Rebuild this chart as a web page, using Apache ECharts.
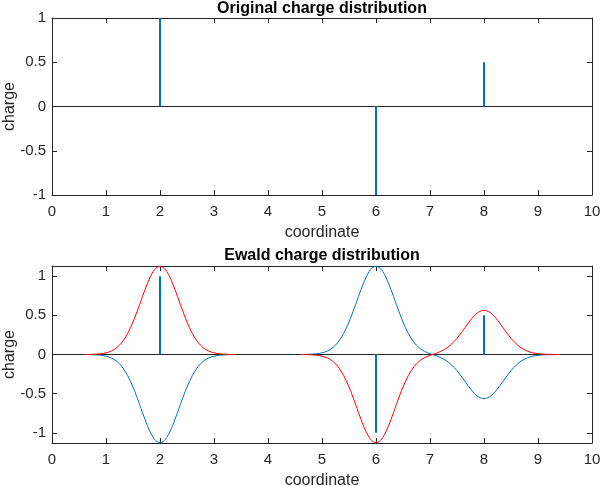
<!DOCTYPE html>
<html>
<head>
<meta charset="utf-8">
<script src="https://cdn.jsdelivr.net/npm/echarts@6/dist/echarts.min.js"></script>
<style>html,body{margin:0;padding:0;background:#fff}#c{width:600px;height:486px}</style>
</head>
<body>
<div id="c"></div>
<script>
// Point charges: positions and values
var chargePos = [2, 6, 8];
var chargeVal = [1, -1, 0.5];

// Ewald screening Gaussian curves sampled along the coordinate
var coord = [0,0.1,0.2,0.3,0.4,0.5,0.6,0.7,0.8,0.9,1,1.1,1.2,1.3,1.4,1.5,1.6,1.7,1.8,1.9,2,2.1,2.2,2.3,2.4,2.5,2.6,2.7,2.8,2.9,3,3.1,3.2,3.3,3.4,3.5,3.6,3.7,3.8,3.9,4,4.1,4.2,4.3,4.4,4.5,4.6,4.7,4.8,4.9,5,5.1,5.2,5.3,5.4,5.5,5.6,5.7,5.8,5.9,6,6.1,6.2,6.3,6.4,6.5,6.6,6.7,6.8,6.9,7,7.1,7.2,7.3,7.4,7.5,7.6,7.7,7.8,7.9,8,8.1,8.2,8.3,8.4,8.5,8.6,8.7,8.8,8.9,9,9.1,9.2,9.3,9.4,9.5,9.6,9.7,9.8,9.9,10];
var redCurve = [null,null,null,null,null,null,
  0,0.001,0.004,0.009,0.021,0.044,0.087,0.159,0.267,0.415,0.595,0.787,0.961,1.084,1.128,1.084,0.961,0.787,0.595,0.415,0.267,0.159,0.087,0.044,0.021,0.009,0.004,0.001,0,
  null,null,null,null,null,null,null,null,null,null,null,
  0,-0.001,-0.004,-0.009,-0.021,-0.044,-0.087,-0.159,-0.267,-0.415,-0.595,-0.787,-0.961,-1.084,-1.128,-1.084,-0.961,-0.787,-0.595,-0.415,-0.267,-0.158,-0.085,-0.040,-0.011,0.013,0.040,0.078,0.134,0.207,0.297,0.393,0.481,0.542,0.564,0.542,0.481,0.393,0.297,0.207,0.134,0.079,0.044,0.022,0.010,0.004,0.002,0.001,0,
  null,null,null,null,null,null];
var blueCurve = [null,null,null,null,null,null,
  0,-0.001,-0.004,-0.009,-0.021,-0.044,-0.087,-0.159,-0.267,-0.415,-0.595,-0.787,-0.961,-1.084,-1.128,-1.084,-0.961,-0.787,-0.595,-0.415,-0.267,-0.159,-0.087,-0.044,-0.021,-0.009,-0.004,-0.001,0,
  null,null,null,null,null,null,null,null,null,null,null,
  0,0.001,0.004,0.009,0.021,0.044,0.087,0.159,0.267,0.415,0.595,0.787,0.961,1.084,1.128,1.084,0.961,0.787,0.595,0.415,0.267,0.158,0.085,0.040,0.011,-0.013,-0.040,-0.078,-0.134,-0.207,-0.297,-0.393,-0.481,-0.542,-0.564,-0.542,-0.481,-0.393,-0.297,-0.207,-0.134,-0.079,-0.044,-0.022,-0.010,-0.004,-0.002,-0.001,0,
  null,null,null,null,null,null];

var xTicks = [0,1,2,3,4,5,6,7,8,9,10];
var yTicks = [-1,-0.5,0,0.5,1];
var titles = ['Original charge distribution', 'Ewald charge distribution'];
var xName = 'coordinate', yName = 'charge';

var FONT = "'Liberation Sans', Arial, Helvetica, sans-serif";
var AX = '#262626';
var chart = echarts.init(document.getElementById('c'), null, {renderer: 'canvas'});

function pairs(xs, ys) { return xs.map(function (x, i) { return [x, ys[i]]; }); }
var stems = chargePos.map(function (p, i) { return [p, chargeVal[i]]; });

var grids = [
  {left: 52, top: 18, width: 540, height: 177, outerBoundsMode: 'none', containLabel: false},
  {left: 52, top: 266, width: 540, height: 177, outerBoundsMode: 'none', containLabel: false}
];
var yRanges = [[-1, 1], [-1.13, 1.13]];

var xAxes = [], yAxes = [];
grids.forEach(function (g, gi) {
  [ 'bottom', 'top' ].forEach(function (pos) {
    xAxes.push({
      type: 'value', gridIndex: gi, position: pos, min: 0, max: 10, interval: 1,
      axisLine: {show: true, onZero: false, lineStyle: {color: AX, width: 1}},
      axisTick: {show: true, inside: true, length: 5, lineStyle: {color: AX}, customValues: xTicks},
      axisLabel: {show: pos === 'bottom', color: AX, fontSize: 15, fontFamily: FONT, margin: 9, customValues: xTicks},
      splitLine: {show: false},
      name: pos === 'bottom' ? xName : '', nameLocation: 'middle', nameGap: 30, nameMoveOverlap: false,
      nameTextStyle: {color: AX, fontSize: 16, fontFamily: FONT}
    });
  });
  [ 'left', 'right' ].forEach(function (pos) {
    yAxes.push({
      type: 'value', gridIndex: gi, position: pos, min: yRanges[gi][0], max: yRanges[gi][1],
      axisLine: {show: true, onZero: false, lineStyle: {color: AX, width: 1}},
      axisTick: {show: true, inside: true, length: 5, lineStyle: {color: AX}, customValues: yTicks},
      axisLabel: {show: pos === 'left', color: AX, fontSize: 15, fontFamily: FONT, margin: 6, customValues: yTicks},
      splitLine: {show: false},
      name: pos === 'left' ? yName : '', nameLocation: 'middle', nameGap: 34, nameRotate: 90, nameMoveOverlap: false,
      nameTextStyle: {color: AX, fontSize: 16, fontFamily: FONT}
    });
  });
});

var series = [];
[0, 1].forEach(function (gi) {
  series.push({
    type: 'line', xAxisIndex: gi * 2, yAxisIndex: gi * 2, data: [[0, 0], [10, 0]],
    showSymbol: false, silent: true, lineStyle: {color: '#262626', width: 1}, z: 1
  });
});
series.push({
  type: 'line', xAxisIndex: 2, yAxisIndex: 2, data: pairs(coord, blueCurve),
  showSymbol: false, connectNulls: false, smooth: 0.3, lineStyle: {color: '#0072BD', width: 1}, z: 2
});
series.push({
  type: 'line', xAxisIndex: 2, yAxisIndex: 2, data: pairs(coord, redCurve),
  showSymbol: false, connectNulls: false, smooth: 0.3, lineStyle: {color: '#FF0000', width: 1}, z: 3
});
[0, 1].forEach(function (gi) {
  series.push({
    type: 'bar', xAxisIndex: gi * 2, yAxisIndex: gi * 2, data: stems, barWidth: 2,
    itemStyle: {color: '#0072BD'}, z: 4
  });
});

chart.setOption({
  animation: false,
  grid: grids,
  xAxis: xAxes,
  yAxis: yAxes,
  series: series,
  graphic: [
    {type: 'text', x: 322, y: 9, style: {text: titles[0], fill: '#000', font: 'bold 16px ' + FONT, textAlign: 'center', textVerticalAlign: 'middle'}},
    {type: 'text', x: 322, y: 256, style: {text: titles[1], fill: '#000', font: 'bold 16px ' + FONT, textAlign: 'center', textVerticalAlign: 'middle'}}
  ]
});
</script>
</body>
</html>
